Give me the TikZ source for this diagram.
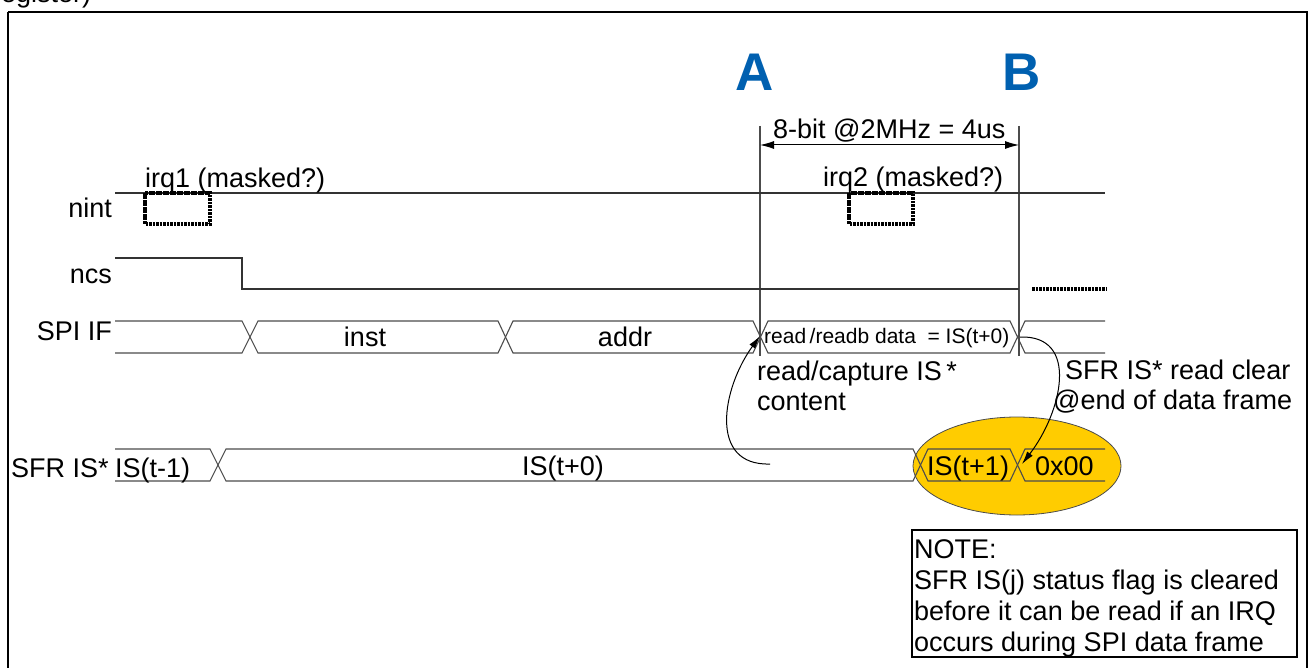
\documentclass[tikz,border=0pt]{standalone}
\usepackage{fontspec}
\setmainfont{Liberation Sans}
\usetikzlibrary{arrows.meta}
\definecolor{ablue}{HTML}{0060B0}
\definecolor{hl}{HTML}{FFCC00}
\begin{document}
\begin{tikzpicture}[x=1pt,y=-1pt,
  lbl/.style={inner sep=0pt, anchor=base west, font=\fontsize{27}{31}\selectfont},
  lblr/.style={inner sep=0pt, anchor=base east, font=\fontsize{27}{31}\selectfont},
  lblc/.style={inner sep=0pt, anchor=base, font=\fontsize{27}{31}\selectfont},
  small/.style={inner sep=0pt, anchor=base west, font=\fontsize{21}{25}\selectfont},
  big/.style={inner sep=0pt, font=\fontsize{53}{60}\selectfont\bfseries, text=ablue},
  sig/.style={line width=1.1pt, draw=black!80},
  bus/.style={line width=1.1pt, draw=black!70},
  marker/.style={line width=1.1pt, draw=black!70},
  dotbox/.style={line width=3.2pt, dash pattern=on 2.6pt off 0.9pt},
  tip/.style={-{Latex[length=13pt,width=7pt]}, line width=1pt},
  frame/.style={line width=2.6pt}]
\useasboundingbox (0,0) rectangle (1308,668);
\begin{scope}
\clip (0,0) rectangle (1308,668);
% cropped caption fragment
\node[lbl] (cap) at (-8,3) {register)};
% frame
\draw[frame] (8,12) -- (1307,12) -- (1307,700);
\draw[frame] (8,12) -- (8,700);
\end{scope}

% signal names
\node[lblr] (nnint) at (112,218) {nint};
\node[lblr] (nncs) at (112,283) {ncs};
\node[lblr] (nspi) at (112,340) {SPI IF};
\node[lbl] (nsfr) at (11,477) {SFR IS*};

% A / B markers
\node[big] (A) at (755,72) {A};
\node[big] (B) at (1022,72) {B};
\coordinate (At) at (760,126);
\coordinate (Ab) at (760,356);
\coordinate (Bt) at (1019,126);
\coordinate (Bb) at (1019,356);
\draw[marker] (At) -- (Ab);
\draw[marker] (Bt) -- (Bb);
\coordinate (dA) at (760,145);
\coordinate (dB) at (1019,145);
\draw[{Latex[length=14pt,width=8pt]}-{Latex[length=14pt,width=8pt]}, line width=1pt] (dA) -- (dB);
\node[lbl] (dim) at (773,139) {8-bit @2MHz = 4us};

% nint
\draw[sig] (115,193) -- (1105,193);
\draw[dotbox] (145,193) rectangle (210,224);
\draw[dotbox] (849,193) rectangle (913,224);
\node[lbl] (irq1) at (145,188) {irq1 (masked?)};
\node[lbl] (irq2) at (823,187) {irq2 (masked?)};

% ncs
\draw[sig] (115,258) -- (242,258) -- (242,289) -- (1019,289);
\draw[dotbox] (1032,289) -- (1106,289);

% SPI IF bus
\draw[bus] (115,321) -- (242,321) -- (258,353) -- (498,353) -- (513,321) -- (753,321) -- (768,353) -- (1010,353) -- (1025,321) -- (1105,321);
\draw[bus] (115,353) -- (242,353) -- (258,321) -- (498,321) -- (513,353) -- (753,353) -- (768,321) -- (1010,321) -- (1025,353) -- (1105,353);
\node[lblc] (inst) at (365,346) {inst};
\node[lblc] (addr) at (625,346) {addr};
\node[small] (rd) at (764,343) {read\,/readb data\ \ = IS(t+0)};

% highlight ellipse
\fill[hl, draw=black!70, line width=0.8pt] (1017,466) ellipse [x radius=104, y radius=49];

% SFR IS bus
\draw[bus] (115,449) -- (210,449) -- (226,481) -- (913,481) -- (928,449) -- (1010,449) -- (1025,481) -- (1105,481);
\draw[bus] (115,481) -- (210,481) -- (226,449) -- (913,449) -- (928,481) -- (1010,481) -- (1025,449) -- (1105,449);
\node[lbl] (ism1) at (115,477) {IS(t-1)};
\node[lblc] (is0) at (563,475) {IS(t+0)};
\node[lbl] (is1) at (927,475) {IS(t+1)};
\node[lbl] (zero) at (1035,475) {0x00};

% annotations
\node[lbl] (cap1) at (757,380) {read/capture IS\,*};
\node[lbl] (cap2) at (757,410) {content};
\node[lbl] (clr1) at (1065,379) {SFR IS* read clear};
\node[lbl] (clr2) at (1053,409) {@end of data frame};

% curved arrows
\coordinate (s1) at (770,464);
\coordinate (e1) at (760,336);
\draw[tip] (s1) .. controls (708,466) and (722,388) .. (e1);
\coordinate (s2) at (1020,337);
\coordinate (e2) at (1022,464);
\draw[tip] (s2) .. controls (1080,335) and (1062,412) .. (e2);

% note
\draw[line width=1.2pt] (912,530) rectangle (1297,657);
\node[lbl] (n1) at (914,558) {NOTE:};
\node[lbl] (n2) at (914,589) {SFR IS(j) status flag is cleared};
\node[lbl] (n3) at (914,620) {before it can be read if an IRQ};
\node[lbl] (n4) at (914,651) {occurs during SPI data frame};
\end{tikzpicture}
\end{document}
